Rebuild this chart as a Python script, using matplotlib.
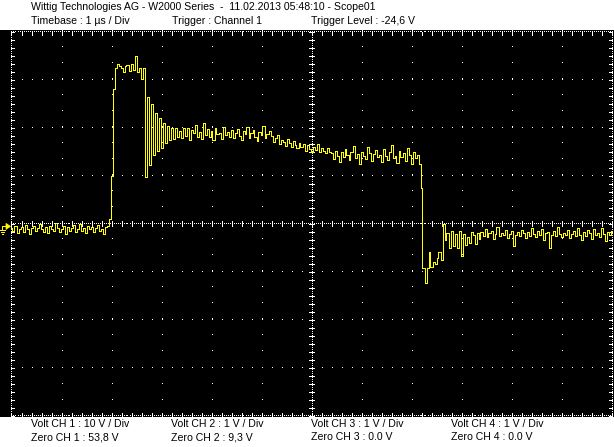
import numpy as np
import matplotlib
matplotlib.use("Agg")
import matplotlib.pyplot as plt
from matplotlib.collections import LineCollection
from matplotlib.patches import Polygon

# ---------------- data (CH1, volts, one sample every 0.04 us) ----------------
sample_step_us = 0.04
volt_per_div = 10.0
us_per_div = 1.0

baseline = [-1.0, -1.5, -0.6, -1.9, -1.2, -0.8, -1.7, -0.4, -1.2, -2.1,
            -1.0, -0.6, -1.5, -1.0, -0.2, -1.2, -1.7, -0.8, -1.9, -0.6,
            -1.2, -1.5, 0.2, -1.0, -1.7, -1.2, -0.6, -2.1, -0.8, -1.5,
            -1.0, -0.4, -1.7, -1.2, -0.2, -1.5, -1.0, -1.9, -0.6, -1.2,
            -0.8, -1.7, -1.0, -0.4, -1.5, -1.2, -2.1, -0.8, -0.6]
rise = [1.0, 10.0, 28.0]
pulse_top = [32.3, 33.3, 32.9, 32.5, 31.5, 32.9, 33.1, 31.7, 33.3, 32.0,
             34.8, 31.5, 32.5, 30.2, 32.5]
fall = [9.6]
ringing = [26.3, 12.1, 25.0, 14.2, 23.1, 15.2, 21.9, 15.8, 21.0, 16.7,
           20.4, 17.3, 20.0, 17.7, 19.8, 18.1]
sag_a = [19.2, 17.9, 19.8, 18.3, 20.0, 17.5, 19.4, 18.8, 20.6, 18.1,
         19.0, 17.7, 21.0, 18.5, 19.6, 18.0, 19.2, 17.3, 19.8, 18.6,
         18.9, 17.6, 20.2, 18.4, 19.0, 18.1, 19.5, 17.8, 18.9, 19.6,
         18.2, 17.4, 19.3, 18.7, 20.1, 17.9, 18.8, 19.4, 18.0, 17.2,
         19.1, 18.5, 20.3, 17.8, 18.6, 19.2]
sag_b = [18.3, 16.9, 17.8, 18.5, 16.6, 17.4, 17.0, 16.2, 17.6, 16.8,
         16.0, 17.1, 16.4, 15.8, 16.7]
sag_c = [15.9, 16.6, 15.2, 16.3, 15.6, 14.8, 16.0, 15.4, 16.5, 14.9,
         15.7, 15.1, 14.6, 15.8, 15.0]
sag_d = [14.6, 13.5, 15.2, 14.0, 12.8, 14.8, 13.9, 15.6, 14.3, 13.2,
         14.9, 16.2, 13.6, 14.4, 12.5, 15.0, 14.1, 13.4, 16.0, 14.7,
         13.0, 14.5, 15.3, 13.8, 14.2, 12.9, 15.5, 14.0, 13.3, 14.8,
         16.4, 13.7, 14.1, 12.6, 15.1, 13.9, 14.6, 13.1, 15.8, 14.3,
         12.4, 14.9, 13.6, 14.2]
edge = [12.5, 7.3]
undershoot = [-9.2, -12.3, -9.2, -6.0, -9.0, -8.1, -8.5, -7.1, -6.0, -7.7,
              0.0, -3.5, -1.9, -5.0, -1.5, -4.6, -2.1, -5.2, -1.5, -6.7,
              -2.1, -4.4, -2.9, -4.0, -1.7, -2.3, -4.2, -1.9, -3.3]
tail = [-1.7, -2.5, -1.2, -2.9, -2.0, -1.5, -3.3, -2.2, -0.8, -2.6,
        -1.9, -2.4, -1.4, -3.0, -2.1, -1.6, -4.6, -2.3, -1.8, -2.7,
        -1.3, -2.0, -3.1, -1.7, -2.5, -0.9, -2.2, -2.8, -1.6, -2.4,
        -1.1, -3.4, -2.0, -1.8, -5.0, -2.3, -1.5, -2.6, -0.7, -2.1,
        -2.9, -1.9, -2.4, -1.3, -3.0, -2.2, -1.6, -2.7, -1.0, -2.3,
        -3.5, -1.8, -2.5, -1.4, -2.0, -3.2, -1.1, -2.4, -1.9, -2.8,
        -0.9, -2.2, -3.6, -1.7, -2.4, -1.5]
ground_level = -0.6

header_line1 = "Wittig Technologies AG - W2000 Series  -  11.02.2013 05:48:10 - Scope01"
header_line2 = ["Timebase : 1 \u00b5s / Div", "Trigger : Channel 1", "Trigger Level : -24,6 V"]
footer_volt = ["Volt CH 1 : 10 V / Div", "Volt CH 2 : 1 V / Div",
               "Volt CH 3 : 1 V / Div", "Volt CH 4 : 1 V / Div"]
footer_zero = ["Zero CH 1 : 53,8 V", "Zero CH 2 : 9,3 V",
               "Zero CH 3 : 0.0 V", "Zero CH 4 : 0.0 V"]

# ---------------- layout ----------------
W, H = 614, 447
fig = plt.figure(figsize=(W / 100, H / 100), dpi=100)
fig.patch.set_facecolor("white")
top_px, bot_px = 30, 417
ax = fig.add_axes([0, 1 - bot_px / H, 1, (bot_px - top_px) / H])
ax.set_facecolor("black")
ax.set_xticks([]); ax.set_yticks([])
for s in ax.spines.values():
    s.set_visible(False)

px_x = us_per_div / 50.0          # us per pixel
px_y = volt_per_div / 48.0        # volts per pixel
x0_px = 11.5                      # pixel centre of t=0
y0_px = 223.5                     # pixel centre of 0 V
ax.set_xlim(-x0_px * px_x, (W - x0_px) * px_x)
ax.set_ylim(-(bot_px - y0_px) * px_y, (y0_px - top_px) * px_y)

ndx, ndy = 12, 4
vmax = ndy * volt_per_div
tmax = ndx * us_per_div
LW = 0.72  # one pixel

def dots(xs, ys):
    ax.plot(xs, ys, ",", color="white", zorder=1)

# interior vertical lines: dot every 16 px
vv = np.arange(-vmax, vmax + 1e-9, 16 * px_y)
for k in range(1, ndx):
    if k == ndx // 2:
        continue
    dots(np.full(vv.size, k * us_per_div), vv)
# interior horizontal lines: dot every 10 px
tt = np.arange(0, tmax + 1e-9, 10 * px_x)
for k in range(-ndy + 1, ndy):
    if k == 0:
        continue
    dots(tt, np.full(tt.size, k * volt_per_div))

# dense axes (borders + centre) every 2 px
tdense = np.arange(0, tmax + 1e-9, 2 * px_x)
vdense = np.arange(-vmax, vmax + 1e-9, 2 * px_y)
for v in (-vmax, 0, vmax):
    dots(tdense, np.full(tdense.size, v))
for t in (0, tmax / 2, tmax):
    dots(np.full(vdense.size, t), vdense)

segs = []
tticks = np.arange(0, tmax + 1e-9, 10 * px_x)
vticks = np.arange(-vmax, vmax + 1e-9, 8 * px_y)
for t in tticks:
    segs.append([(t, -2.5 * px_y), (t, 2.5 * px_y)])
    segs.append([(t, vmax), (t, vmax - 3 * px_y)])
    segs.append([(t, -vmax), (t, -vmax + 3 * px_y)])
for v in vticks:
    segs.append([(tmax / 2 - 2.5 * px_x, v), (tmax / 2 + 2.5 * px_x, v)])
    segs.append([(0, v), (3 * px_x, v)])
    segs.append([(tmax, v), (tmax - 3 * px_x, v)])
ax.add_collection(LineCollection(segs, colors="white", linewidths=LW,
                                 antialiased=False, zorder=1))

# ---------------- trace ----------------
trace = np.array(baseline + rise + pulse_top + fall + ringing + sag_a + sag_b
                 + sag_c + sag_d + edge + undershoot + tail)
t = np.arange(trace.size) * sample_step_us
ax.plot(t, trace, color="#FFFF00", lw=LW, drawstyle="steps-mid",
        antialiased=False, zorder=3)

# ground marker
gx = -x0_px * px_x
tri = Polygon([(gx + 6 * px_x, ground_level + 3 * px_y),
               (gx + 10.5 * px_x, ground_level),
               (gx + 6 * px_x, ground_level - 3 * px_y)],
              closed=True, facecolor="#FFFF00", edgecolor="#FFFF00",
              lw=0.5, zorder=4)
ax.add_patch(tri)
gsegs = [[(gx + 2 * px_x, ground_level), (gx + 6 * px_x, ground_level)],
         [(gx + 2 * px_x, ground_level), (gx + 2 * px_x, ground_level - 4 * px_y)],
         [(gx + 0 * px_x, ground_level - 4 * px_y), (gx + 5 * px_x, ground_level - 4 * px_y)],
         [(gx + 1 * px_x, ground_level - 6 * px_y), (gx + 4 * px_x, ground_level - 6 * px_y)],
         [(gx + 2 * px_x, ground_level - 8 * px_y), (gx + 3 * px_x, ground_level - 8 * px_y)]]
ax.add_collection(LineCollection(gsegs, colors="#FFFF00", linewidths=LW,
                                 antialiased=False, zorder=4))

# ---------------- texts ----------------
FONT = "Liberation Sans"
FS = 7.6
def ftext(xp, yp, s):
    fig.text(xp / W, 1 - yp / H, s, ha="left", va="center",
             fontsize=FS, family=FONT, color="black")

ftext(31, 7.5, header_line1)
for xp, s in zip((31, 172, 311), header_line2):
    ftext(xp, 21.5, s)
for i, (sv, sz) in enumerate(zip(footer_volt, footer_zero)):
    ftext(31 + 140 * i, 424, sv)
    ftext(31 + 140 * i, 437, sz)

fig.savefig("out.png", dpi=100, facecolor="white")
